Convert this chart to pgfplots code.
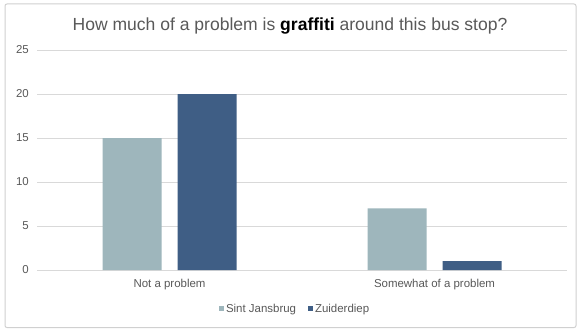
\documentclass[border=0pt]{standalone}
\usepackage{pgfplots}
\pgfplotsset{compat=1.18}
\usepackage{fontspec}
\setmainfont{Liberation Sans}

\definecolor{jansbrug}{HTML}{9EB6BC}
\definecolor{zuiderdiep}{HTML}{3F5E85}
\definecolor{gridgrey}{HTML}{D9D9D9}
\definecolor{framegrey}{HTML}{D0D0D0}
\definecolor{labelgrey}{HTML}{595959}

\begin{document}
\begin{tikzpicture}
  % canvas and chart frame
  \path[fill=white] (0bp,0bp) rectangle (577bp,329bp);
  \draw[framegrey, line width=1bp, rounded corners=2bp] (5bp,1.5bp) rectangle (576bp,325bp);

  % title
  \node[text=labelgrey, font=\fontsize{17.6}{20}\selectfont] at (290bp,303bp)
    {How much of a problem is \textbf{\textcolor{black}{graffiti}} around this bus stop?};

  \begin{axis}[
    scale only axis,
    width=530bp, height=220bp,
    at={(37bp,59bp)}, anchor=south west,
    ybar=16bp, bar width=59bp,
    xmin=-0.5, xmax=1.5,
    ymin=0, ymax=25,
    ytick={0,5,...,25},
    xtick={0,1},
    xticklabels={Not a problem, Somewhat of a problem},
    ymajorgrids,
    grid style={gridgrey, line width=0.9bp},
    axis line style={draw=none},
    major tick length=0pt,
    tick label style={text=labelgrey, font=\fontsize{11.5}{13}\selectfont},
    /pgf/number format/assume math mode=true,
    yticklabel style={inner sep=0pt, xshift=-8bp},
    xticklabel style={inner sep=0pt, yshift=-9bp},
    legend columns=2,
    legend style={draw=none, fill=none, at={(0.487,-0.176)}, anchor=center,
      font=\fontsize{11.5}{13}\selectfont, text=labelgrey,
      /tikz/every even column/.append style={column sep=10bp},
      inner sep=0pt},
    legend image code/.code={\fill[#1] (0bp,-2.5bp) rectangle (5bp,2.5bp);},
    clip=false,
  ]
    \addplot[fill=jansbrug, draw=none] coordinates {(0,15) (1,7)};
    \addplot[fill=zuiderdiep, draw=none] coordinates {(0,20) (1,1)};
    \legend{Sint Jansbrug, Zuiderdiep}
  \end{axis}
\end{tikzpicture}
\end{document}
